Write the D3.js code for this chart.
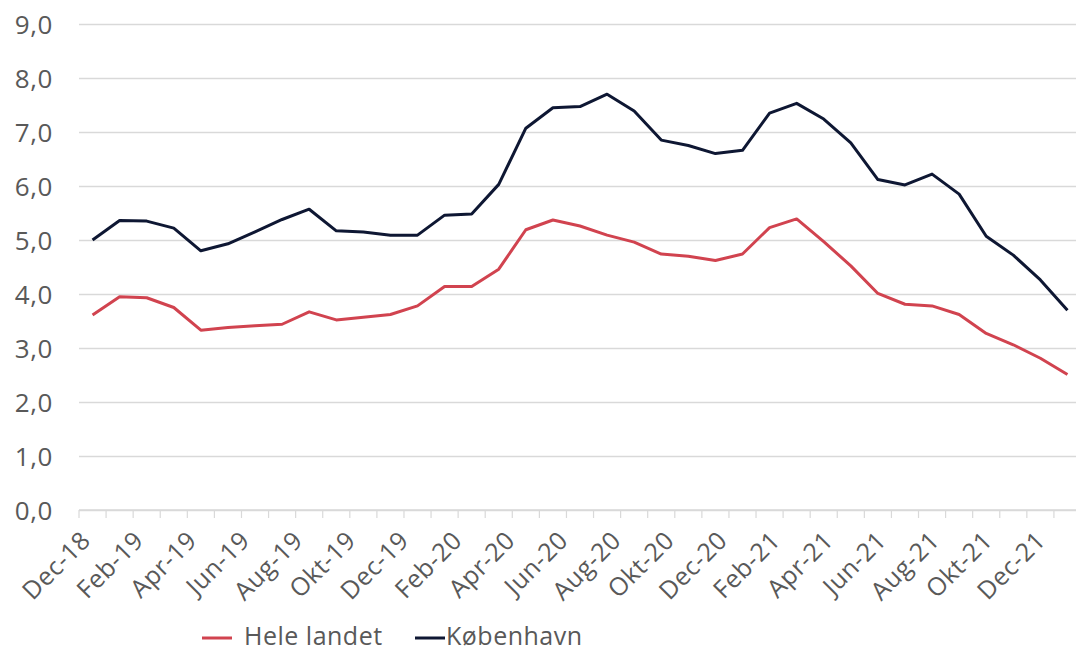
<!DOCTYPE html>
<html>
<head>
<meta charset="utf-8">
<script src="https://cdn.jsdelivr.net/npm/d3@7"></script>
<style>
  html, body { margin: 0; padding: 0; background: #fff; }
  svg { display: block; }
  text { font-family: "Open Sans", sans-serif; fill: #595959; }
</style>
</head>
<body>
<svg id="chart" width="1076" height="652"></svg>
<script>
const categories = ["Dec-18","Jan-19","Feb-19","Mar-19","Apr-19","Maj-19","Jun-19","Jul-19","Aug-19","Sep-19","Okt-19","Nov-19","Dec-19",
  "Jan-20","Feb-20","Mar-20","Apr-20","Maj-20","Jun-20","Jul-20","Aug-20","Sep-20","Okt-20","Nov-20","Dec-20",
  "Jan-21","Feb-21","Mar-21","Apr-21","Maj-21","Jun-21","Jul-21","Aug-21","Sep-21","Okt-21","Nov-21","Dec-21"];

const heleLandet = [3.61,3.95,3.93,3.75,3.33,3.38,3.41,3.44,3.67,3.52,3.57,3.62,3.78,
  4.14,4.14,4.46,5.19,5.37,5.26,5.09,4.96,4.74,4.70,4.62,4.74,
  5.23,5.39,4.97,4.52,4.01,3.81,3.78,3.62,3.27,3.06,2.81,2.51];

const koebenhavn = [5.00,5.36,5.35,5.22,4.80,4.93,5.15,5.38,5.57,5.17,5.15,5.09,5.09,
  5.46,5.48,6.03,7.07,7.45,7.47,7.70,7.39,6.85,6.75,6.60,6.66,
  7.35,7.53,7.24,6.80,6.12,6.02,6.22,5.85,5.07,4.72,4.26,3.70];

const yTicks = [0,1,2,3,4,5,6,7,8,9];
const xLabels = categories.filter((d, i) => i % 2 === 0);

const seriesNames = ["Hele landet", "København"];
const seriesColors = ["#d1434f", "#0e1733"];

const svg = d3.select("#chart");

const x = d3.scaleBand().domain(categories).range([79, 1081]).paddingInner(0).paddingOuter(0);
const y = d3.scaleLinear().domain([0, 9]).range([510, 24]);
const xLab = d3.scalePoint().domain(xLabels).range([92, 1047]);

// gridlines + y labels
const yAxis = d3.axisLeft(y).tickValues(yTicks).tickSize(-(1081 - 79))
  .tickFormat(d => d3.format(".1f")(d).replace(".", ","));
const gy = svg.append("g").attr("transform", "translate(79,0)").call(yAxis);
gy.select(".domain").remove();
gy.selectAll(".tick line").attr("stroke", "#d9d9d9").attr("stroke-width", 1.5);
gy.selectAll(".tick text")
  .attr("x", -26).attr("dy", "0.36em")
  .style("font-size", "26px").style("letter-spacing", "0.6px").style("fill", "#595959");

// x axis line with ticks at category boundaries
const gx = svg.append("g").attr("transform", "translate(0,510)");
gx.append("line").attr("x1", 79).attr("x2", 1081).attr("stroke", "#d9d9d9").attr("stroke-width", 1.5);
gx.selectAll("line.tk").data(categories.concat(["__end"])).enter().append("line")
  .attr("class", "tk")
  .attr("x1", (d, i) => i < categories.length ? x(d) : x.range()[1])
  .attr("x2", (d, i) => i < categories.length ? x(d) : x.range()[1])
  .attr("y1", 0).attr("y2", 8)
  .attr("stroke", "#d9d9d9").attr("stroke-width", 1.2);

// x labels
svg.append("g").selectAll("text").data(xLabels).enter().append("text")
  .attr("transform", d => `translate(${xLab(d)},542) rotate(-45)`)
  .attr("text-anchor", "end")
  .style("font-size", "25px").style("letter-spacing", "0.5px")
  .text(d => d);

// lines
const line = d3.line()
  .x((d, i) => x(categories[i]) + x.bandwidth() / 2)
  .y(d => y(d));

[heleLandet, koebenhavn].forEach((s, k) => {
  svg.append("path").datum(s)
    .attr("fill", "none")
    .attr("stroke", seriesColors[k])
    .attr("stroke-width", 3)
    .attr("stroke-linejoin", "round")
    .attr("d", line);
});

// legend
const legendLineX = [202, 415];
const legendTextX = [244, 446];
const lg = svg.append("g");
seriesNames.forEach((n, k) => {
  lg.append("line").attr("x1", legendLineX[k]).attr("x2", legendLineX[k] + 30)
    .attr("y1", 638).attr("y2", 638)
    .attr("stroke", seriesColors[k]).attr("stroke-width", 3);
  lg.append("text").attr("x", legendTextX[k]).attr("y", 645)
    .style("font-size", "25px").style("letter-spacing", "0.5px").text(n);
});
</script>
</body>
</html>
